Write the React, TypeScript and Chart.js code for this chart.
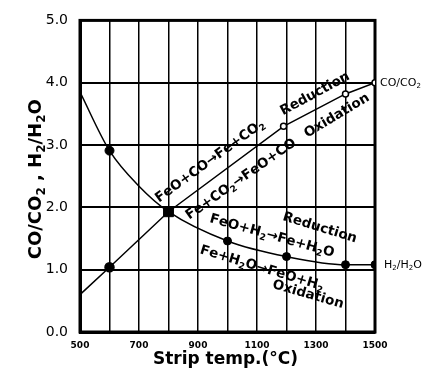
import { useEffect, useRef } from 'react';
import { Chart, registerables } from 'chart.js';

Chart.register(...registerables);

// ---- data ----
const xTickLabels = ['500', '700', '900', '1100', '1300', '1500'];
const yTickLabels = ['0.0', '1.0', '2.0', '3.0', '4.0', '5.0'];

const coTemps = [500, 600, 800, 1190, 1400, 1500];
const coRatio = [0.6, 1.04, 1.93, 3.3, 3.82, 4.0];

const h2Temps = [500, 600, 700, 800, 1000, 1200, 1400, 1500];
const h2Ratio = [3.85, 2.91, 2.34, 1.93, 1.46, 1.21, 1.08, 1.08];

const seriesNames = ['CO/CO₂', 'H₂/H₂O'];
const xTitle = 'Strip temp.(°C)';
const yTitle = 'CO/CO₂ , H₂/H₂O';

const noteTexts = [
  'FeO+CO→Fe+CO₂',
  'Reduction',
  'Fe+CO₂→FeO+CO',
  'Oxidation',
  'FeO+H₂→Fe+H₂O',
  'Reduction',
  'Fe+H₂O→FeO+H₂',
  'Oxidation',
];
const noteTemps = [941, 1297, 1046, 1371, 1151, 1313, 1117, 1273];
const noteRatios = [2.74, 3.82, 2.45, 3.47, 1.54, 1.67, 1.02, 0.6];
const noteAngles = [-36, -28.5, -35, -31, 15.7, 17, 16.8, 16];

const FONT = '"DejaVu Sans", "Liberation Sans", sans-serif';

function drawRich(
  ctx: CanvasRenderingContext2D,
  text: string,
  x: number,
  y: number,
  size: number,
  bold: boolean,
  align: 'left' | 'center'
) {
  const w = bold ? 'bold ' : '';
  const base = `${w}${size}px ${FONT}`;
  const sub = `${w}${Math.round(size * 0.68)}px ${FONT}`;
  const parts: { t: string; s: boolean; w: number }[] = [];
  let total = 0;
  for (const ch of text) {
    const s = ch === '₂';
    ctx.font = s ? sub : base;
    const t = s ? '2' : ch;
    const mw = ctx.measureText(t).width;
    parts.push({ t, s, w: mw });
    total += mw;
  }
  let cx = align === 'center' ? x - total / 2 : x;
  ctx.textAlign = 'left';
  ctx.textBaseline = 'middle';
  for (const p of parts) {
    ctx.font = p.s ? sub : base;
    ctx.fillText(p.t, cx, p.s ? y + size * 0.3 : y);
    cx += p.w;
  }
}

const decorPlugin = {
  id: 'decor',
  beforeDatasetsDraw(chart: any) {
    const { ctx, chartArea } = chart;
    ctx.save();
    ctx.strokeStyle = '#000';
    ctx.lineWidth = 3;
    ctx.strokeRect(chartArea.left, chartArea.top, chartArea.right - chartArea.left, chartArea.bottom - chartArea.top);
    ctx.restore();
  },
  afterDraw(chart: any) {
    const { ctx, chartArea, scales } = chart;
    const xs = scales.x;
    const ys = scales.y;
    ctx.save();
    ctx.fillStyle = '#000';
    // annotations along the curves
    noteTexts.forEach((t, i) => {
      const px = xs.getPixelForValue(noteTemps[i]);
      const py = ys.getPixelForValue(noteRatios[i]);
      ctx.save();
      ctx.translate(px, py);
      ctx.rotate((noteAngles[i] * Math.PI) / 180);
      drawRich(ctx, t, 0, 0, 13.5, true, 'center');
      ctx.restore();
    });
    // series names at right end
    drawRich(ctx, seriesNames[0], chartArea.right + 5, ys.getPixelForValue(coRatio[coRatio.length - 1]), 11, false, 'left');
    drawRich(ctx, seriesNames[1], chartArea.right + 9, ys.getPixelForValue(h2Ratio[h2Ratio.length - 1]), 11, false, 'left');
    // x title
    drawRich(ctx, xTitle, (chartArea.left + chartArea.right) / 2 - 2, chartArea.bottom + 28, 17, true, 'center');
    // y title
    ctx.save();
    ctx.translate(36, (chartArea.top + chartArea.bottom) / 2 + 3);
    ctx.rotate(-Math.PI / 2);
    drawRich(ctx, yTitle, 0, 0, 18, true, 'center');
    ctx.restore();
    ctx.restore();
  },
};

export default function App() {
  const ref = useRef<HTMLCanvasElement>(null);

  useEffect(() => {
    if (!ref.current) return;
    const chart = new Chart(ref.current, {
      type: 'line',
      data: {
        datasets: [
          {
            label: seriesNames[1],
            data: h2Temps.map((t, i) => ({ x: t, y: h2Ratio[i] })),
            borderColor: '#000',
            borderWidth: 1.5,
            cubicInterpolationMode: 'monotone',
            pointRadius: [0, 4.5, 0, 7, 4, 4, 4, 4],
            pointStyle: ['circle', 'circle', 'circle', 'rect', 'circle', 'circle', 'circle', 'circle'],
            pointBackgroundColor: '#000',
            pointBorderColor: '#000',
            pointBorderWidth: 1,
            fill: false,
          } as any,
          {
            label: seriesNames[0],
            data: coTemps.map((t, i) => ({ x: t, y: coRatio[i] })),
            borderColor: '#000',
            borderWidth: 1.5,
            tension: 0,
            pointRadius: [0, 4.5, 0, 3, 3, 3],
            pointBackgroundColor: ['#000', '#000', '#000', '#fff', '#fff', '#fff'],
            pointBorderColor: '#000',
            pointBorderWidth: 1.5,
            fill: false,
          } as any,
        ],
      },
      options: {
        animation: false,
        responsive: false,
        events: [],
        layout: { padding: { top: 14, right: 53, left: 0, bottom: 0 } },
        plugins: { legend: { display: false }, tooltip: { enabled: false }, title: { display: false } },
        scales: {
          x: {
            type: 'linear',
            min: 500,
            max: 1500,
            afterFit: (s: any) => {
              s.height = 46;
            },
            border: { display: true, color: '#000', width: 3 },
            grid: { color: '#000', lineWidth: 1.5, drawTicks: false },
            ticks: {
              stepSize: 100,
              autoSkip: false,
              maxRotation: 0,
              padding: 8,
              color: '#000',
              font: { family: FONT, size: 9, weight: 'bold' },
              callback: (v: any) => {
                const s = String(v);
                return xTickLabels.includes(s) ? s : '';
              },
            },
          },
          y: {
            type: 'linear',
            min: 0,
            max: 5,
            afterFit: (s: any) => {
              s.width = 80;
            },
            border: { display: true, color: '#000', width: 3 },
            grid: { color: '#000', lineWidth: 2, drawTicks: false },
            ticks: {
              stepSize: 1,
              padding: 12,
              color: '#000',
              font: { family: FONT, size: 14 },
              callback: (v: any) => yTickLabels[Math.round(Number(v))] ?? '',
            },
          },
        },
      } as any,
      plugins: [decorPlugin],
    });
    return () => chart.destroy();
  }, []);

  return (
    <div style={{ position: 'fixed', left: 0, top: 0, width: 428, height: 378, background: '#fff' }}>
      <canvas ref={ref} width={428} height={378} style={{ width: 428, height: 378 }} />
    </div>
  );
}
